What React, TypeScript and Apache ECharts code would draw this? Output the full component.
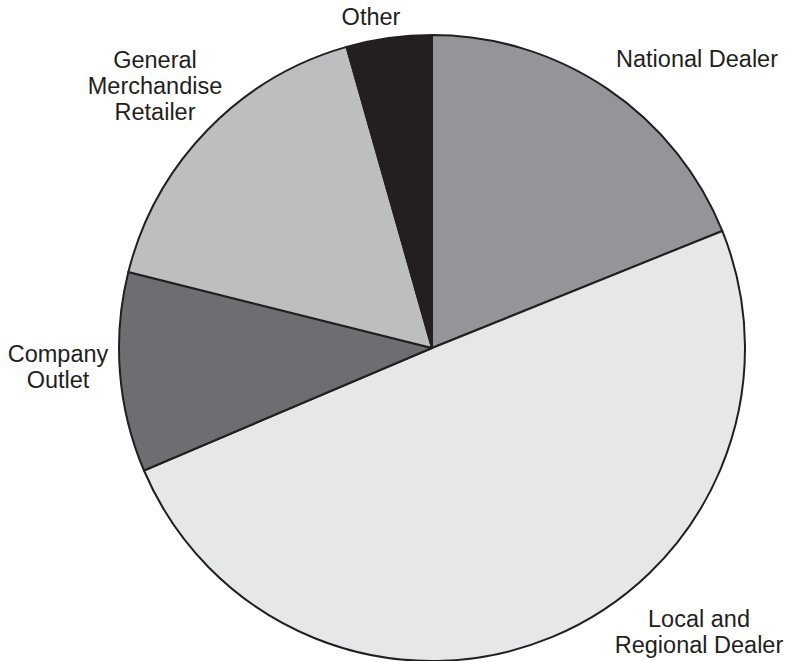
import React, { useEffect, useRef } from "react";
import * as echarts from "echarts";

const categories = [
  "National Dealer",
  "Local and Regional Dealer",
  "Company Outlet",
  "General Merchandise Retailer",
  "Other",
];
const shares = [18.9, 49.7, 10.3, 16.7, 4.4];
const labelTexts = [
  "National Dealer",
  "Local and\nRegional Dealer",
  "Company\nOutlet",
  "General\nMerchandise\nRetailer",
  "Other",
];
const sliceColors = ["#939598", "#e6e7e8", "#6d6e71", "#bcbec0", "#231f20"];
const labelPositions = [
  [697, 59],
  [699, 632],
  [58, 367],
  [155, 86],
  [371, 17],
];

export default function App() {
  const ref = useRef<HTMLDivElement>(null);
  useEffect(() => {
    if (!ref.current) return;
    const chart = echarts.init(ref.current, null, { renderer: "svg" });
    chart.setOption({
      animation: false,
      backgroundColor: "#ffffff",
      series: [
        {
          type: "pie",
          center: [432, 348],
          radius: 313,
          startAngle: 90,
          clockwise: true,
          avoidLabelOverlap: false,
          itemStyle: { borderColor: "#231f20", borderWidth: 2 },
          label: {
            show: true,
            position: "outside",
            formatter: (p: any) => labelTexts[p.dataIndex],
            fontFamily: "Liberation Sans, Arial, sans-serif",
            fontSize: 23.5,
            lineHeight: 26,
            color: "#231f20",
            align: "center",
          },
          labelLine: { show: false },
          labelLayout: (p: any) => {
            const pos = labelPositions[p.dataIndex];
            return {
              x: pos[0],
              y: pos[1],
              align: "center",
              verticalAlign: "middle",
            };
          },
          emphasis: { disabled: true },
          data: categories.map((name, i) => ({
            name,
            value: shares[i],
            itemStyle: { color: sliceColors[i] },
          })),
        },
      ],
    });
    return () => chart.dispose();
  }, []);
  return (
    <div
      ref={ref}
      style={{ position: "fixed", left: 0, top: 0, width: 787, height: 661 }}
    />
  );
}
